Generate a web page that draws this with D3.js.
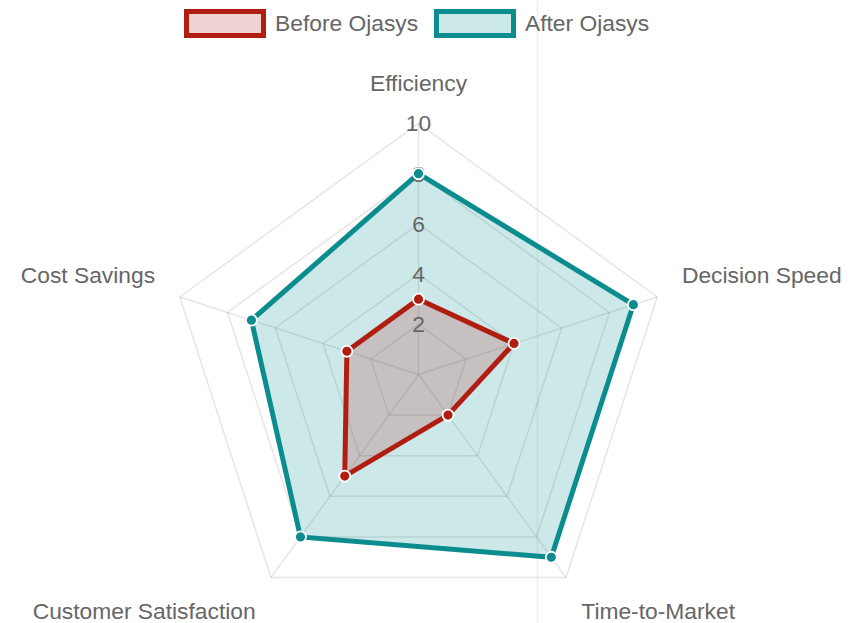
<!DOCTYPE html>
<html>
<head>
<meta charset="utf-8">
<script src="https://cdn.jsdelivr.net/npm/d3@7/dist/d3.min.js"></script>
<style>
  html, body { margin: 0; padding: 0; background: #fff; }
  svg { display: block; font-family: "Liberation Sans", Arial, sans-serif; }
</style>
</head>
<body>
<svg id="radarChart" width="863" height="623"></svg>
<script>
// ---- Data
const axes = ["Efficiency", "Decision Speed", "Time-to-Market", "Customer Satisfaction", "Cost Savings"];
const beforeValues = [3, 4, 2, 5, 3];
const afterValues = [8, 9, 9, 8, 7];
const tickValues = [2, 4, 6, 8, 10];
const seriesNames = ["Before Ojasys", "After Ojasys"];

const svg = d3.select('#radarChart');
const cx = 418.5, cy = 374.5, radius = 251;
const fontSize = '22.8px';

// ---- Scales
const mapR = d3.scaleLinear().domain([0, 10]).range([0, radius]);
const angle = d3.scaleLinear().domain([0, axes.length]).range([0, 2 * Math.PI]);
const polar = (i, r) => [cx + r * Math.sin(angle(i)), cy - r * Math.cos(angle(i))];

// faint vertical line from the screenshot
svg.append('line')
    .attr('x1', 537.5).attr('x2', 537.5)
    .attr('y1', 0).attr('y2', 623)
    .attr('stroke', '#f0f0f0')
    .attr('stroke-width', 1.5);

// ---- Grid
const grid = svg.append('g').attr('class', 'grid');
grid.selectAll('polygon')
    .data(tickValues)
    .enter()
    .append('polygon')
    .attr('points', v => axes.map((a, i) => polar(i, mapR(v)).join(',')).join(' '))
    .attr('fill', 'none')
    .attr('stroke', 'rgba(0,0,0,0.1)')
    .attr('stroke-width', 1.5);

grid.selectAll('line')
    .data(axes)
    .enter()
    .append('line')
    .attr('x1', cx).attr('y1', cy)
    .attr('x2', (d, i) => polar(i, radius)[0])
    .attr('y2', (d, i) => polar(i, radius)[1])
    .attr('stroke', 'rgba(0,0,0,0.1)')
    .attr('stroke-width', 1.5);

// ---- Datasets (last one drawn first, like Chart.js)
const series = [
    { name: seriesNames[0], values: beforeValues, stroke: '#b01e12', fill: 'rgba(178,34,34,0.2)' },
    { name: seriesNames[1], values: afterValues, stroke: '#0b8d8f', fill: 'rgba(0,139,139,0.2)' }
];

const line = d3.lineRadial()
    .angle((d, i) => angle(i))
    .radius(d => mapR(d))
    .curve(d3.curveLinearClosed);

series.slice().reverse().forEach(s => {
    const g = svg.append('g').attr('transform', `translate(${cx}, ${cy})`);
    g.append('path')
        .datum(s.values)
        .attr('d', line)
        .attr('fill', s.fill)
        .attr('stroke', s.stroke)
        .attr('stroke-width', 5)
        .attr('stroke-linejoin', 'miter');
});

// ---- Tick labels
svg.append('g')
    .selectAll('text')
    .data(tickValues)
    .enter()
    .append('text')
    .attr('x', cx)
    .attr('y', v => cy - mapR(v))
    .attr('dy', '0.35em')
    .attr('text-anchor', 'middle')
    .attr('fill', '#666')
    .style('font-size', fontSize)
    .text(d => d);

// ---- Points
series.slice().reverse().forEach(s => {
    svg.append('g')
        .selectAll('circle')
        .data(s.values)
        .enter()
        .append('circle')
        .attr('cx', (d, i) => polar(i, mapR(d))[0])
        .attr('cy', (d, i) => polar(i, mapR(d))[1])
        .attr('r', 5.5)
        .attr('fill', s.stroke)
        .attr('stroke', '#fff')
        .attr('stroke-width', 1.8);
});

// ---- Point labels
const labelAnchor = i => {
    const s = Math.sin(angle(i));
    if (Math.abs(s) < 0.01) return 'middle';
    if (i === 1 || i === 2) return 'start';
    return 'end';
};
const labelShift = i => (Math.cos(angle(i)) > 0 ? -14 : 12);

svg.append('g')
    .selectAll('text')
    .data(axes)
    .enter()
    .append('text')
    .attr('x', (d, i) => polar(i, radius + 26)[0])
    .attr('y', (d, i) => polar(i, radius + 26)[1] + labelShift(i))
    .attr('dy', '0.35em')
    .attr('text-anchor', (d, i) => labelAnchor(i))
    .attr('fill', '#666')
    .style('font-size', fontSize)
    .text(d => d);

// ---- Legend
const legendX = [186.5, 436.5];
const legend = svg.append('g')
    .selectAll('g')
    .data(series)
    .enter()
    .append('g')
    .attr('transform', (d, i) => `translate(${legendX[i]}, 11.5)`);

legend.append('rect')
    .attr('width', 77)
    .attr('height', 24)
    .attr('fill', d => d.fill)
    .attr('stroke', d => d.stroke)
    .attr('stroke-width', 5);

legend.append('text')
    .attr('x', 88.5)
    .attr('y', 12)
    .attr('dy', '0.35em')
    .attr('fill', '#666')
    .style('font-size', fontSize)
    .text(d => d.name);
</script>
</body>
</html>
